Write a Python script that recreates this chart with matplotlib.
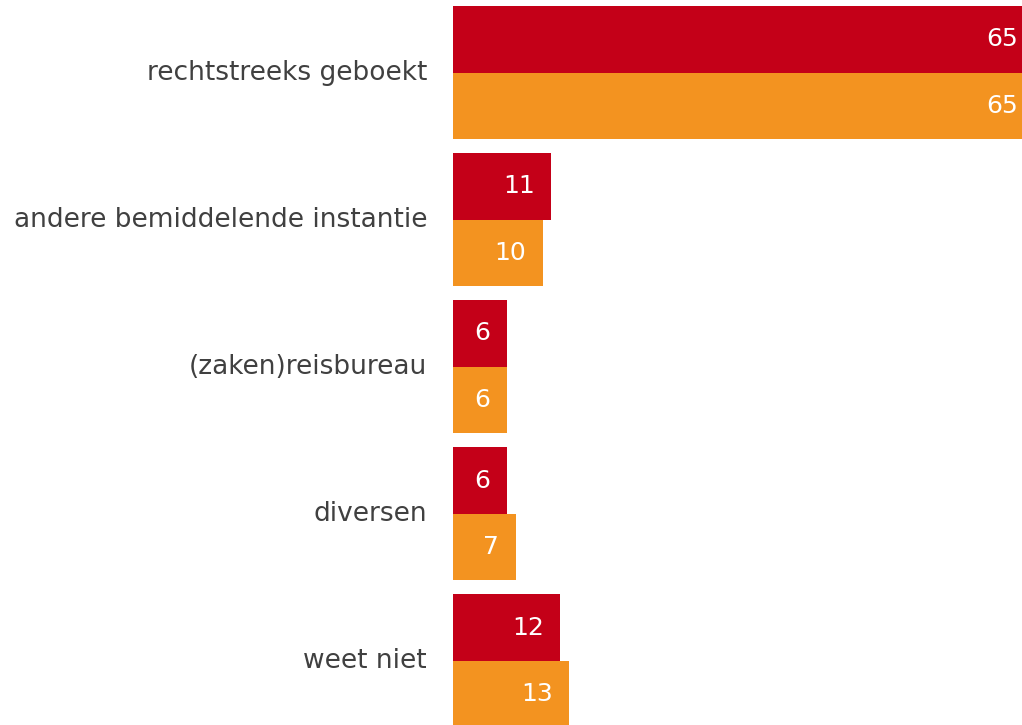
import matplotlib
matplotlib.use("Agg")
import matplotlib.pyplot as plt
import numpy as np

plt.rcParams['font.family'] = ['DejaVu Sans']

categories = ["rechtstreeks geboekt", "andere bemiddelende instantie",
              "(zaken)reisbureau", "diversen", "weet niet"]
series_a = [65, 11, 6, 6, 12]
series_b = [65, 10, 6, 7, 13]
colors = ["#C40018", "#F39320"]

W, H = 1022, 725
fig = plt.figure(figsize=(W / 100, H / 100), dpi=100)
left_px = 453
ax = fig.add_axes([left_px / W, 0, (W - left_px) / W, 1])

pitch = 147.1
bh = 66.5 / pitch
y = np.arange(len(categories))
ax.barh(y - bh / 2, series_a, height=bh, color=colors[0], linewidth=0)
ax.barh(y + bh / 2, series_b, height=bh, color=colors[1], linewidth=0)

ax.set_xlim(0, (W - left_px) / 8.95)
ax.set_ylim((H - 72.5) / pitch, -72.5 / pitch)
ax.axis("off")

for i, (a, b) in enumerate(zip(series_a, series_b)):
    for val, yy in ((a, i - bh / 2), (b, i + bh / 2)):
        ax.annotate(str(val), xy=(val, yy), xytext=(-12, 0),
                    textcoords="offset points", ha="right", va="center",
                    color="white", fontsize=18, annotation_clip=False)

for i, c in enumerate(categories):
    ax.annotate(c, xy=(0, i), xytext=(-26 * 0.72, 0), textcoords="offset points",
                ha="right", va="center", color="#404040", fontsize=19,
                annotation_clip=False)

fig.savefig("out.png", dpi=100)
